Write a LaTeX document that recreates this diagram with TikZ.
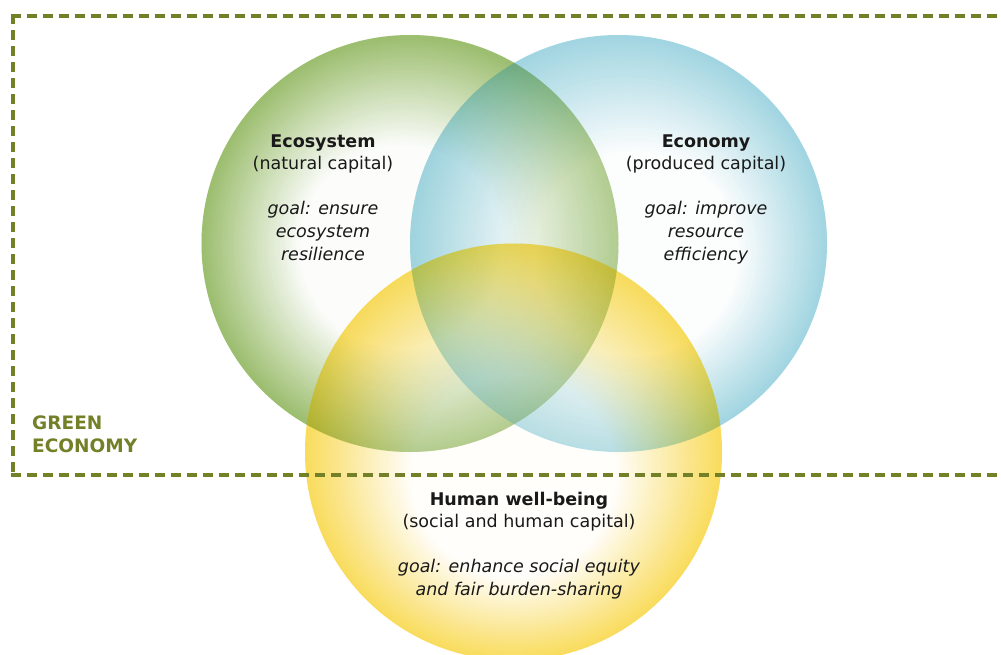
\documentclass[tikz,border=0pt]{standalone}
\usepackage{fontspec}
\setmainfont{DejaVu Sans}
\definecolor{gcol}{RGB}{131,174,74}
\definecolor{bcol}{RGB}{137,203,218}
\definecolor{ycol}{RGB}{249,212,52}
\definecolor{geolive}{RGB}{116,128,40}
\definecolor{txt}{RGB}{25,25,25}
% nested discs from the coloured rim to the white spot
% #1 cx, #2 cy, #3 ox, #4 oy (white-spot offset), #5 colour, #6 radius
\newcommand\graddiscs[6]{%
  \foreach \i in {0,...,44} {
    \pgfmathsetmacro\ra{#6*(1-0.52*\i/45)}
    \pgfmathsetmacro\fa{1-\ra/#6}
    \pgfmathsetmacro\pct{100*(1-\i/45)}
    \fill[#5!\pct!white] ({#1+#3*\fa},{#2+#4*\fa}) circle (\ra);
  }}
\newcommand\gradcirc[6]{%
  \begin{scope}[blend mode=multiply]
    \begin{scope}[transparency group, opacity=0.72]
      \graddiscs{#1}{#2}{#3}{#4}{#5}{#6}
    \end{scope}
  \end{scope}
  \begin{scope}[transparency group, opacity=0.25]
    \graddiscs{#1}{#2}{#3}{#4}{#5}{#6}
  \end{scope}}
\begin{document}
\begin{tikzpicture}[x=1pt,y=1pt,
  lbl/.style={align=center, text=txt, inner sep=0pt, font=\fontsize{17.5}{22.6}\selectfont},
  gelbl/.style={align=left, text=geolive, inner sep=0pt, font=\fontsize{18.5}{23}\selectfont\bfseries},
  frame/.style={draw=geolive, line width=3.2pt, dash pattern=on 10pt off 6pt}]
\useasboundingbox (0,0) rectangle (1001,-654);
\fill[white] (0,0) rectangle (1001,-654);
% circles
\gradcirc{410}{-243.5}{-15}{-8}{gcol}{208.5}
\gradcirc{618.5}{-243.5}{35}{-20}{bcol}{208.5}
\gradcirc{513.5}{-452}{0}{-45}{ycol}{208.5}
% dashed green-economy frame
\draw[frame] (13,-14.4) -- (13,-476.6);
\draw[frame] (11.4,-16) -- (1015,-16);
\draw[frame] (11.4,-475) -- (1015,-475);
% labels
\node[lbl, anchor=base] (eco) at (323,-260) {\textbf{Ecosystem}\\(natural capital)\\[22.6pt]\textit{goal: ensure}\\\textit{ecosystem}\\\textit{resilience}};
\node[lbl, anchor=base] (econ) at (706,-260) {\textbf{Economy}\\(produced capital)\\[22.6pt]\textit{goal: improve}\\\textit{resource}\\\textit{efficiency}};
\node[lbl, anchor=base] (hum) at (519,-595.5) {\textbf{Human well-being}\\(social and human capital)\\[22.6pt]\textit{goal: enhance social equity}\\\textit{and fair burden-sharing}};
\node[gelbl, anchor=base west] (green) at (32,-452) {GREEN\\ECONOMY};
\end{tikzpicture}
\end{document}
